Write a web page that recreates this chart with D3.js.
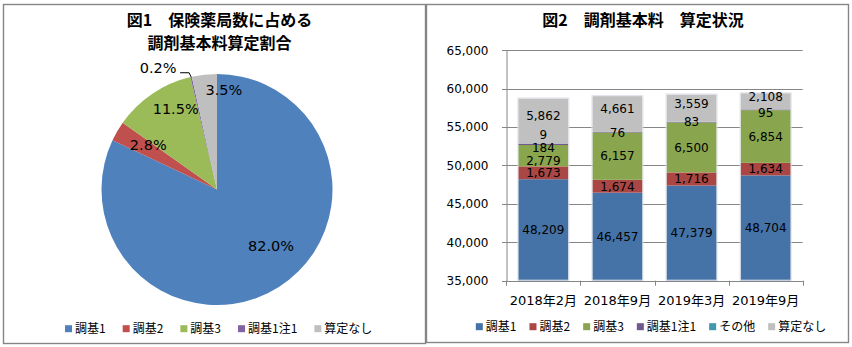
<!DOCTYPE html>
<html>
<head>
<meta charset="utf-8">
<script src="https://cdn.jsdelivr.net/npm/d3@7"></script>
<style>
  html, body { margin: 0; padding: 0; background: #fff; }
  svg { display: block; }
</style>
</head>
<body>
<svg id="chart" width="852" height="347"></svg>
<script>
// ---- Figure 1: share of pharmacies by dispensing base fee ----
const pieCategories = ["調基1", "調基2", "調基3", "調基1注1", "算定なし"];
const pieShares = [82.0, 2.8, 11.5, 0.2, 3.5];

// ---- Figure 2: dispensing base fee counts over time ----
const periods = ["2018年2月", "2018年9月", "2019年3月", "2019年9月"];
const barSeries = ["調基1", "調基2", "調基3", "調基1注1", "その他", "算定なし"];
const kihon1 = [48209, 46457, 47379, 48704];
const kihon2 = [1673, 1674, 1716, 1634];
const kihon3 = [2779, 6157, 6500, 6854];
const kihon1chu1 = [184, 76, 83, 95];
const sonota = [9, 0, 0, 0];
const santeiNashi = [5862, 4661, 3559, 2108];
const yTickValues = [35000, 40000, 45000, 50000, 55000, 60000, 65000];

// ---- styling ----
const pieColors = ["#4F81BD", "#C0504D", "#9BBB59", "#8064A2", "#BFBFBF"];
const barColors = ["#4572A7", "#AA4643", "#89A54E", "#71588F", "#4198AF", "#C0C0C0"];
const frameColor = "#868686";
const numFont = "'DejaVu Sans', 'Noto Sans CJK JP', sans-serif";
const jpFont = "'Noto Sans CJK JP', sans-serif";

const svg = d3.select("#chart");

// panel frames
svg.append("rect").attr("x", 3.5).attr("y", 4.5).attr("width", 422).attr("height", 339)
  .attr("fill", "#fff").attr("stroke", frameColor).attr("stroke-width", 1.4);
svg.append("rect").attr("x", 426.5).attr("y", 4.5).attr("width", 422).attr("height", 338)
  .attr("fill", "#fff").attr("stroke", frameColor).attr("stroke-width", 1.4);

// ================= pie =================
const pieG = svg.append("g").attr("transform", "translate(217,189.5)");
const radius = 115.5;
const pie = d3.pie().sort(null).value(d => d)(pieShares);
const arc = d3.arc().innerRadius(0).outerRadius(radius);

pieG.selectAll("path.slice").data(pie).join("path")
  .attr("class", "slice")
  .attr("d", arc)
  .attr("fill", (d, i) => pieColors[i]);

// label placement: [angle in degrees clockwise from top, distance as fraction of radius]
const pieLabelPlacement = [[136.3, 0.677], [303.3, 0.712], [333, 0.788], null, [3.9, 0.869]];
const fmtPct = d => d.toFixed(1) + "%";
pie.forEach((d, i) => {
  const p = pieLabelPlacement[i];
  if (!p) return;
  const a = p[0] * Math.PI / 180, r = p[1] * radius;
  pieG.append("text")
    .attr("x", Math.sin(a) * r).attr("y", -Math.cos(a) * r)
    .attr("dy", "0.36em")
    .attr("text-anchor", "middle")
    .attr("font-family", numFont).attr("font-size", 14.5)
    .attr("fill", "#000")
    .text(fmtPct(pieShares[i]));
});
// thin slice: label outside with a leader line
{
  const d = pie[3];
  const mid = (d.startAngle + d.endAngle) / 2;
  const ex = Math.sin(mid) * radius, ey = -Math.cos(mid) * radius;
  const ly = ey - 4.2;
  pieG.append("polyline")
    .attr("points", [[ex - 11, ly], [ex - 2, ly], [ex, ey]].map(p => p.join(",")).join(" "))
    .attr("fill", "none").attr("stroke", "#000").attr("stroke-width", 1);
  pieG.append("text")
    .attr("x", ex - 33).attr("y", ly - 5.4).attr("dy", "0.36em")
    .attr("text-anchor", "middle")
    .attr("font-family", numFont).attr("font-size", 14.5)
    .text(fmtPct(pieShares[3]));
}

// pie title
const t1 = svg.append("text").attr("text-anchor", "middle")
  .attr("font-family", jpFont).attr("font-weight", 700).attr("font-size", 16).attr("fill", "#000");
t1.append("tspan").attr("x", 219.5).attr("y", 26).text("図1　保険薬局数に占める");
t1.append("tspan").attr("x", 219.5).attr("y", 48.7).text("調剤基本料算定割合");

// legend helper
function legend(items, colors, cx, cy, gap) {
  const g = svg.append("g");
  let x = 0;
  items.forEach((name, i) => {
    const it = g.append("g").attr("transform", `translate(${x},0)`);
    it.append("rect").attr("x", 0).attr("y", cy - 3.5).attr("width", 7).attr("height", 7).attr("fill", colors[i]);
    const t = it.append("text").attr("x", 10).attr("y", cy + 4.4)
      .attr("font-family", jpFont).attr("font-size", 12).attr("fill", "#000").text(name);
    x += 10 + t.node().getComputedTextLength() + gap;
  });
  const total = x - gap;
  g.attr("transform", `translate(${cx - total / 2},0)`);
}
legend(pieCategories, pieColors, 218.7, 328.7, 17);

// ================= stacked bars =================
const rows = periods.map((p, i) => ({
  period: p,
  "調基1": kihon1[i], "調基2": kihon2[i], "調基3": kihon3[i],
  "調基1注1": kihon1chu1[i], "その他": sonota[i], "算定なし": santeiNashi[i]
}));
const stacked = d3.stack().keys(barSeries)(rows);

const x = d3.scaleBand().domain(periods).range([506.3, 802.7]).paddingInner(0.324).paddingOuter(0.162);
const y = d3.scaleLinear().domain([35000, 65000]).range([280.7, 50.2]);

const chartG = svg.append("g");

// horizontal gridlines
chartG.selectAll("line.grid").data(yTickValues).join("line")
  .attr("class", "grid")
  .attr("x1", 502).attr("x2", 802.7)
  .attr("y1", d => Math.round(y(d)) + 0.5).attr("y2", d => Math.round(y(d)) + 0.5)
  .attr("stroke", frameColor).attr("stroke-width", 1);

// y axis
const yAxis = d3.axisLeft(y).tickValues(yTickValues).tickFormat(d3.format(",")).tickSize(0).tickPadding(18);
const yAxisG = chartG.append("g").attr("transform", "translate(506.5,0)").call(yAxis);
yAxisG.select(".domain").attr("stroke", frameColor);
yAxisG.selectAll("text").attr("font-family", numFont).attr("font-size", 12).attr("fill", "#000");

// bars
const layer = chartG.selectAll("g.layer").data(stacked).join("g")
  .attr("class", "layer").attr("fill", (d, i) => barColors[i]);
layer.selectAll("rect").data(d => d).join("rect")
  .attr("x", d => x(d.data.period))
  .attr("width", x.bandwidth())
  .attr("y", d => y(d[1]))
  .attr("height", d => y(Math.max(d[0], 35000)) - y(d[1]));

// thin light outline around each bar
chartG.selectAll("rect.outline").data(periods).join("rect")
  .attr("class", "outline")
  .attr("x", d => x(d) - 0.5).attr("width", x.bandwidth() + 1)
  .attr("y", (d, i) => y(stacked[stacked.length - 1][i][1]) - 0.5)
  .attr("height", (d, i) => y(35000) - y(stacked[stacked.length - 1][i][1]))
  .attr("fill", "none").attr("stroke", "#dfe3ea").attr("stroke-width", 1);

// x axis baseline and category dividers
chartG.append("line").attr("x1", 502).attr("x2", 802.7)
  .attr("y1", Math.round(y(35000)) + 0.5).attr("y2", Math.round(y(35000)) + 0.5)
  .attr("stroke", frameColor);
const dividers = d3.range(periods.length + 1).map(i => x.range()[0] + i * x.step());
chartG.selectAll("line.div").data(dividers).join("line")
  .attr("class", "div")
  .attr("x1", d => Math.round(d) + 0.5).attr("x2", d => Math.round(d) + 0.5)
  .attr("y1", y(35000)).attr("y2", y(35000) + 5)
  .attr("stroke", frameColor);

const xAxis = d3.axisBottom(x).tickSize(0).tickPadding(15);
const xAxisG = chartG.append("g").attr("transform", `translate(0,${y(35000)})`).call(xAxis);
xAxisG.select(".domain").remove();
xAxisG.selectAll("text").attr("font-family", numFont).attr("font-size", 13).attr("fill", "#000");

// value labels (a few nudged apart where segments are too thin)
const labelNudge = {
  "算定なし": [-5, -5, -4, -5],
  "調基3": [4.7, 0, 0, 0],
  "調基1注1": [3, 0, 0, 2.7],
  "その他": [-9, 0, 0, 0]
};
const fmt = d3.format(",");
stacked.forEach(s => {
  s.forEach((d, i) => {
    const v = d[1] - d[0];
    if (!v) return;
    const nudge = (labelNudge[s.key] || [])[i] || 0;
    const cy = (y(Math.max(d[0], 35000)) + y(d[1])) / 2 + nudge;
    chartG.append("text")
      .attr("x", x(d.data.period) + x.bandwidth() / 2)
      .attr("y", cy).attr("dy", "0.36em")
      .attr("text-anchor", "middle")
      .attr("font-family", numFont).attr("font-size", 12).attr("fill", "#000")
      .text(fmt(v));
  });
});

// bar chart title
svg.append("text").attr("x", 643).attr("y", 25.8).attr("text-anchor", "middle")
  .attr("font-family", jpFont).attr("font-weight", 700).attr("font-size", 16).attr("fill", "#000")
  .text("図2　調剤基本料　算定状況");

legend(barSeries, barColors, 651, 326.7, 13);
</script>
</body>
</html>
